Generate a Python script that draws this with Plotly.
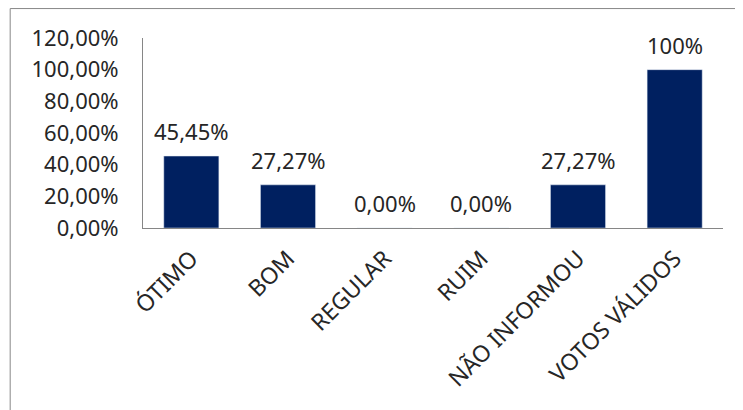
import plotly.graph_objects as go

categories = ['ÓTIMO', 'BOM', 'REGULAR', 'RUIM', 'NÃO INFORMOU', 'VOTOS VÁLIDOS']
values = [45.45, 27.27, 0.0, 0.0, 27.27, 100.0]
value_labels = ['45,45%', '27,27%', '0,00%', '0,00%', '27,27%', '100%']
y_ticks = [0, 20, 40, 60, 80, 100, 120]
y_tick_labels = ['0,00%', '20,00%', '40,00%', '60,00%', '80,00%', '100,00%', '120,00%']

font_family = 'Noto Sans, Open Sans, sans-serif'
text_color = '#262626'
font_size = 22

fig = go.Figure(data=[go.Bar(
    x=categories,
    y=values,
    marker=dict(color='#002060'),
)])

# data labels sit a little above each bar
for cat, val, lab in zip(categories, values, value_labels):
    fig.add_annotation(
        x=cat, y=val, text=lab,
        showarrow=False, yanchor='bottom', yshift=8,
        font=dict(size=font_size, color=text_color, family=font_family),
    )

# the page adds an 8px body margin, so margins are shifted to compensate
fig.update_layout(
    width=743,
    height=410,
    margin=dict(l=135, r=28, t=30, b=190),
    plot_bgcolor='white',
    paper_bgcolor='white',
    bargap=0.43,
    showlegend=False,
    font=dict(family=font_family, size=font_size, color=text_color),
)

fig.update_yaxes(
    range=[0, 120],
    tickvals=y_ticks,
    ticktext=y_tick_labels,
    showgrid=False,
    zeroline=False,
    showline=True,
    linecolor='#868686',
    linewidth=1,
    ticks='',
    ticklabelstandoff=19,
    tickfont=dict(size=font_size, color=text_color),
)

fig.update_xaxes(
    tickangle=-45,
    showgrid=False,
    showline=True,
    linecolor='#868686',
    linewidth=1,
    ticks='',
    ticklabelstandoff=7,
    tickfont=dict(size=23, color=text_color),
)

# outer chart border
fig.add_shape(
    type='rect', xref='paper', yref='paper',
    x0=-0.229, x1=1.08, y0=-1.1, y1=1.155,
    line=dict(color='#888888', width=1),
    layer='below',
)

fig.write_html('out.html')
